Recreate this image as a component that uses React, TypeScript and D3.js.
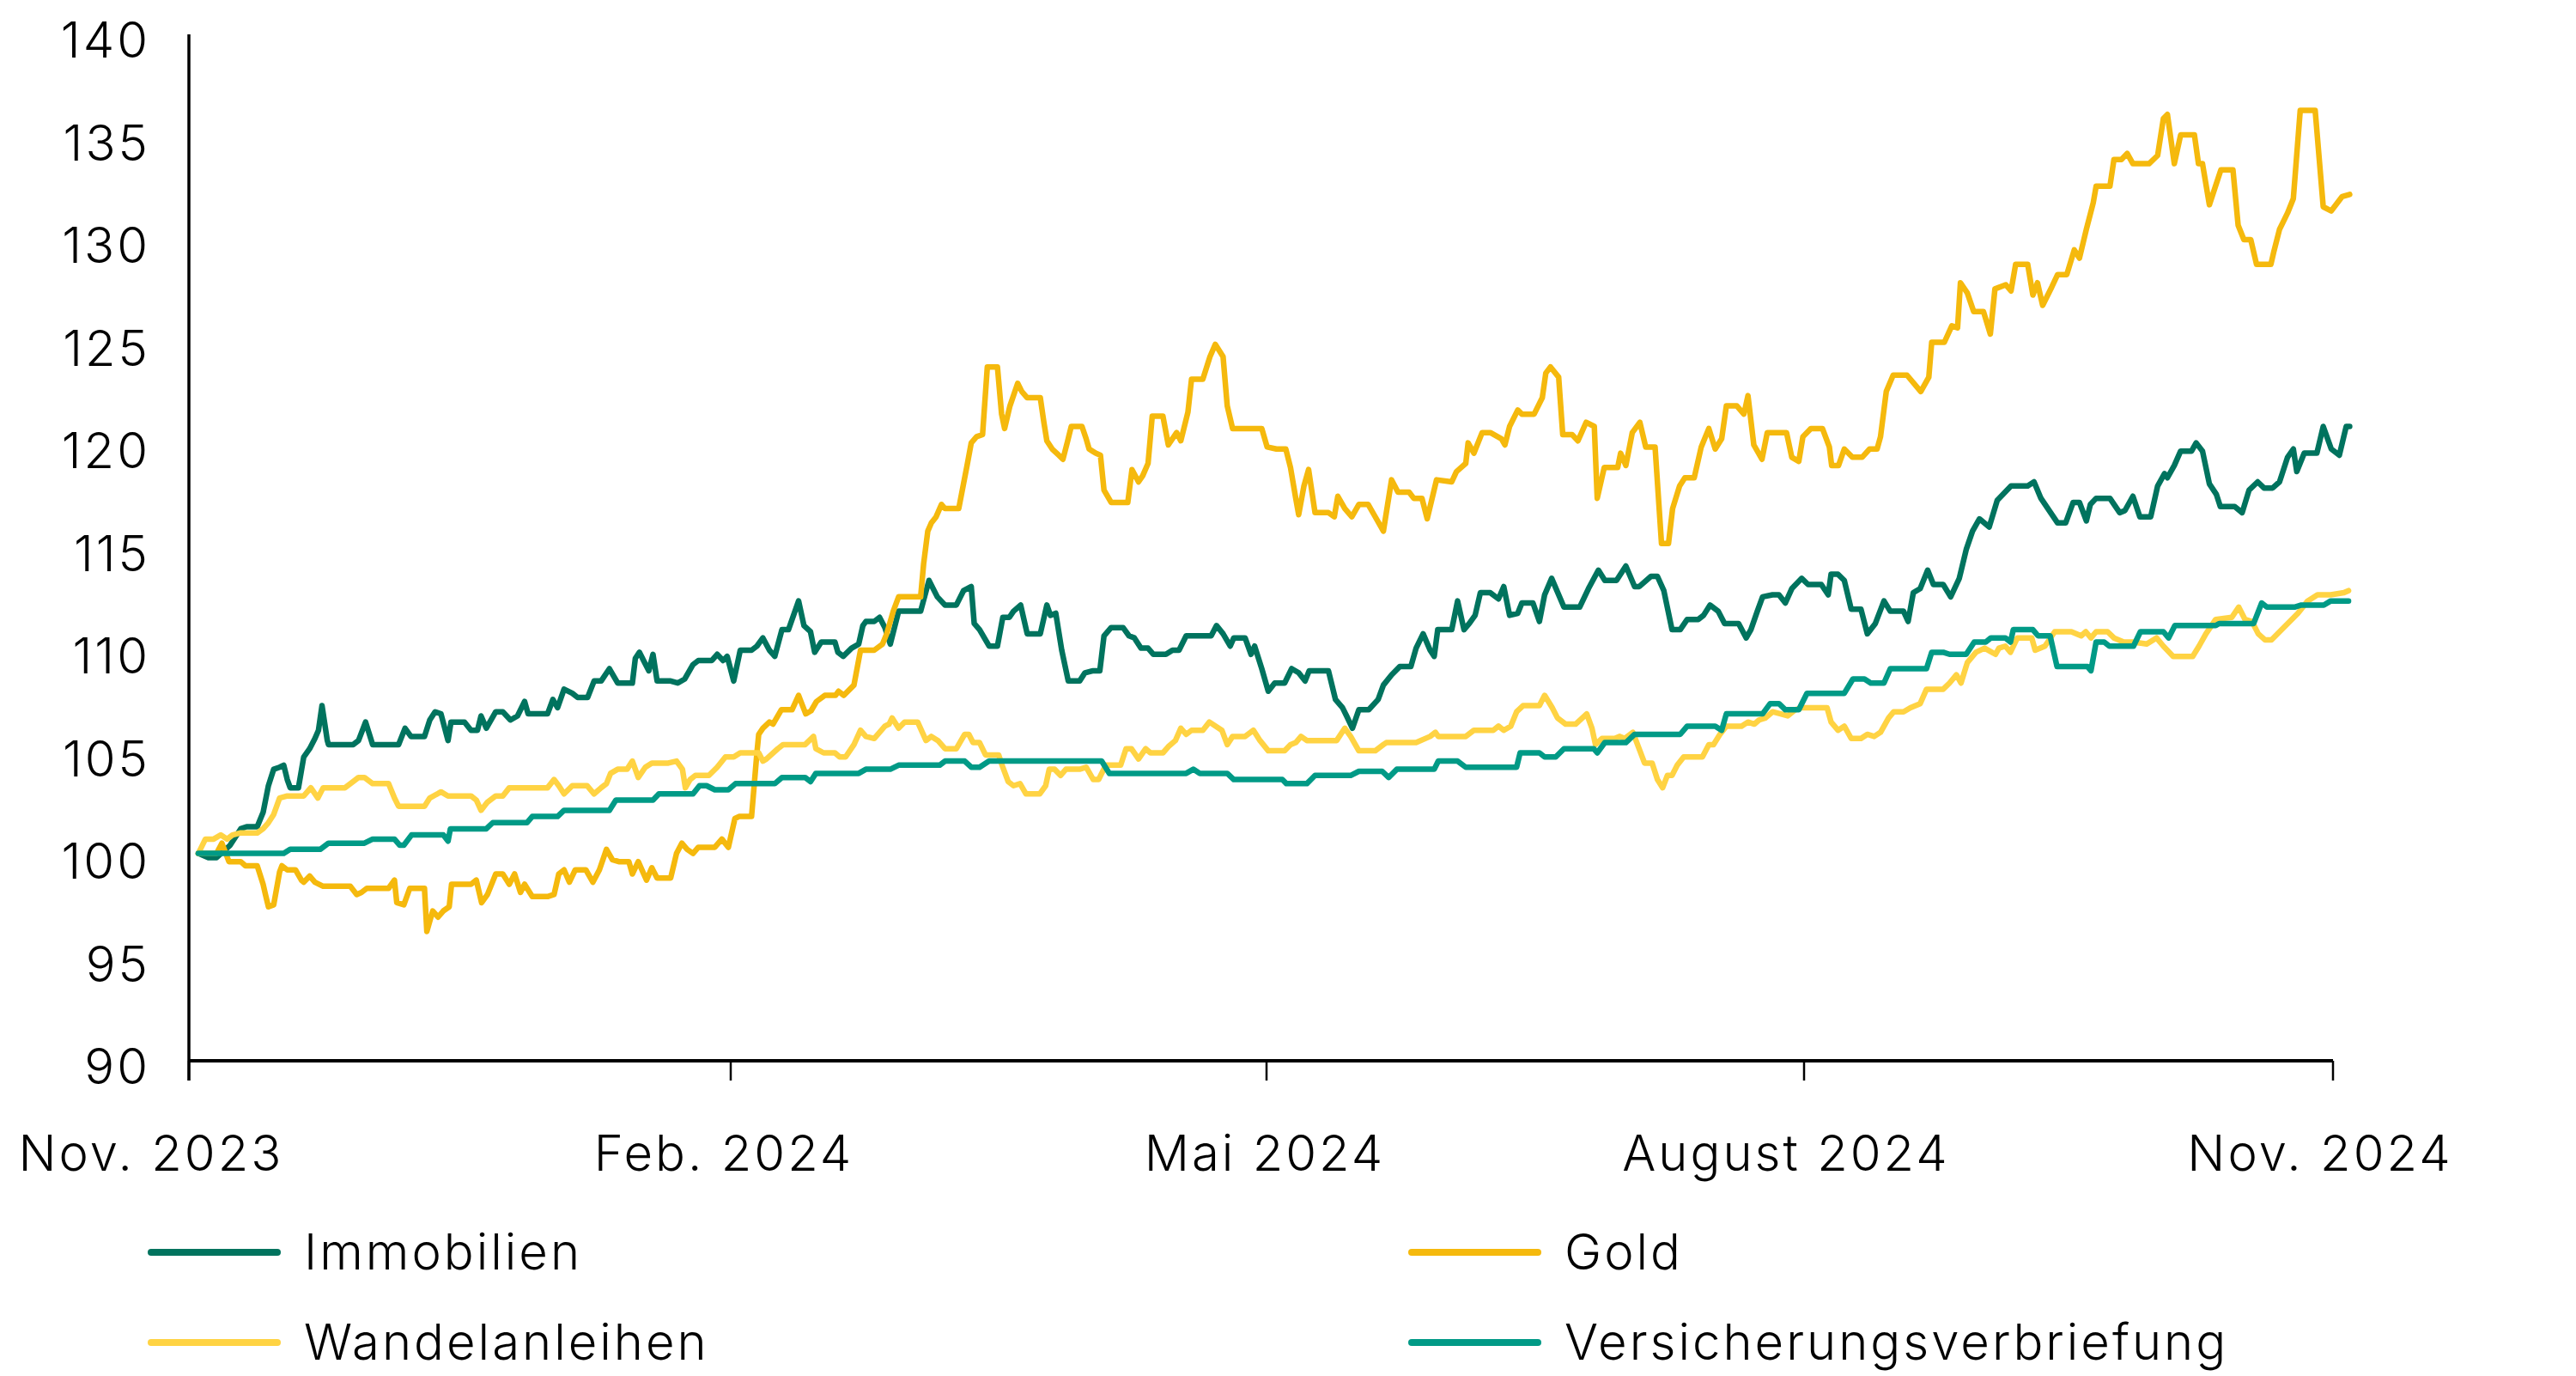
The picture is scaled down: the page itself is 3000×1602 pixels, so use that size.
import React from "react";
import * as d3 from "d3";

// ---------- data (x = days since 1 Nov 2023, y = index, start = 100) ----------
const START_UTC = Date.UTC(2023, 10, 1);

const xTickDates = ["2023-11-01", "2024-02-01", "2024-05-01", "2024-08-01", "2024-11-01"];
const xTickLabels = ["Nov. 2023", "Feb. 2024", "Mai 2024", "August 2024", "Nov. 2024"];
const yTicks = [90, 95, 100, 105, 110, 115, 120, 125, 130, 135, 140];

const seriesNames = ["Immobilien", "Gold", "Wandelanleihen", "Versicherungsverbriefung"];
const seriesColors = ["#00735E", "#F5B90D", "#FFD343", "#009A86"];

const immobilien: [number, number][] = [
  [1.6,100.1],[3.3,99.9],[4.7,99.9],[7.0,100.5],[8.8,101.3],[9.8,101.4],[11.6,101.4],[12.6,102.1],[13.5,103.4],[14.4,104.2],[15.4,104.3],[16.1,104.4],[16.7,103.7],[17.2,103.3],[18.6,103.3],[19.5,104.8],[20.5,105.2],[21.4,105.7],[22.0,106.1],[22.6,107.3],[23.5,105.6],[23.7,105.4],[27.9,105.4],[28.8,105.6],[30.0,106.5],[31.2,105.4],[35.6,105.4],[36.7,106.2],[37.7,105.8],[40.0,105.8],[40.9,106.6],[41.8,107.0],[42.8,106.9],[44.0,105.6],[44.5,106.5],[46.8,106.5],[47.9,106.1],[49.0,106.1],[49.6,106.8],[50.5,106.2],[52.1,107.0],[53.3,107.0],[54.6,106.6],[55.8,106.8],[57.0,107.5],[57.6,106.9],[60.9,106.9],[61.8,107.6],[62.6,107.2],[63.7,108.1],[65.1,107.9],[66.0,107.7],[67.7,107.7],[68.8,108.5],[70.0,108.5],[71.4,109.1],[72.8,108.4],[75.3,108.4],[75.8,109.6],[76.5,109.9],[77.2,109.5],[78.1,109.0],[78.8,109.8],[79.5,108.5],[81.8,108.5],[83.0,108.4],[84.2,108.6],[85.6,109.3],[86.5,109.5],[88.8,109.5],[89.7,109.8],[90.7,109.5],[91.4,109.7],[92.5,108.5],[93.6,110.0],[95.5,110.0],[96.4,110.2],[97.4,110.6],[98.5,110.0],[99.4,109.7],[100.6,111.0],[101.7,111.0],[103.4,112.4],[104.3,111.2],[105.4,110.9],[106.1,109.9],[107.2,110.4],[109.5,110.4],[110.0,109.9],[110.9,109.7],[112.3,110.1],[113.5,110.3],
  [114.2,111.2],[114.7,111.4],[116.1,111.4],[117.0,111.6],[117.9,111.1],[118.8,110.3],[120.2,111.9],[123.9,111.9],[125.3,113.4],[126.7,112.6],[128.0,112.2],[129.9,112.2],[131.1,112.9],[132.4,113.1],[132.9,111.3],[133.8,111.0],[135.4,110.2],[136.8,110.2],[137.7,111.6],[138.8,111.6],[139.5,111.9],[140.7,112.2],[141.8,110.8],[144.0,110.8],[145.1,112.2],[145.7,111.7],[146.6,111.8],[147.6,110.0],[148.7,108.5],[150.6,108.5],[151.5,108.9],[152.9,109.0],[154.0,109.0],[154.7,110.7],[155.9,111.1],[157.9,111.1],[158.9,110.7],[159.8,110.6],[160.9,110.1],[162.1,110.1],[163.0,109.8],[165.1,109.8],[166.2,110.0],[167.3,110.0],[168.5,110.7],[172.7,110.7],[173.6,111.2],[174.7,110.8],[175.9,110.2],[176.5,110.6],[178.4,110.6],[179.4,109.8],[180.0,110.2],[181.2,109.1],[182.3,108.0],[183.4,108.4],[185.1,108.4],[186.3,109.1],[187.5,108.9],[188.6,108.5],[189.3,109.0],[192.6,109.0],[193.8,107.6],[195.0,107.2],[195.7,106.8],[196.7,106.2],[197.8,107.1],[199.5,107.1],[201.1,107.6],[202.0,108.3],[203.4,108.8],[204.8,109.2],[206.7,109.2],[207.6,110.1],[208.8,110.8],[210.0,110.0],[210.7,109.7],[211.3,111.0],[213.7,111.0],[214.7,112.4],[215.8,111.0],[216.7,111.3],[217.7,111.7],[218.6,112.8],[220.3,112.8],[221.7,112.5],[222.6,113.1],[223.6,111.7],[225.0,111.8],[225.7,112.3],[227.6,112.3],[228.7,111.4],[229.6,112.7],[230.8,113.5],
  [232.9,112.1],[235.6,112.1],[237.1,113.0],[238.8,113.9],[239.9,113.4],[241.9,113.4],[243.5,114.1],[245.0,113.1],[245.8,113.1],[247.8,113.6],[248.9,113.6],[250.0,112.9],[251.4,111.0],[252.8,111.0],[254.0,111.5],[255.9,111.5],[256.8,111.7],[257.9,112.2],[259.3,111.9],[260.4,111.3],[262.8,111.3],[264.1,110.6],[264.9,111.0],[266.0,111.9],[266.9,112.6],[268.6,112.7],[269.7,112.7],[270.8,112.3],[271.9,113.0],[273.6,113.5],[274.7,113.2],[277.0,113.2],[278.2,112.7],[278.7,113.7],[279.9,113.7],[281.0,113.4],[282.2,112.0],[283.9,112.0],[285.0,110.8],[286.4,111.3],[287.9,112.4],[289.0,111.9],[291.3,111.9],[292.1,111.4],[293.0,112.8],[294.2,113.0],[295.5,113.9],[296.5,113.2],[298.2,113.2],[299.5,112.6],[301.0,113.5],[302.2,114.9],[303.3,115.8],[304.5,116.4],[306.2,116.0],
  [307.6,117.3],[310.0,118.0],[312.9,118.0],[314.0,118.2],[315.2,117.4],[318.1,116.2],[319.5,116.2],[320.8,117.2],[321.9,117.2],[323.1,116.3],[323.8,117.1],[324.8,117.4],[327.2,117.4],[328.9,116.7],[329.8,116.8],[331.2,117.5],[332.4,116.5],[334.3,116.5],[335.5,118.0],[336.7,118.6],[337.2,118.4],[338.4,119.0],[339.5,119.7],[341.4,119.7],[342.2,120.1],[343.3,119.7],[344.5,118.1],[345.7,117.6],[346.4,117.0],[348.9,117.0],[350.2,116.7],[351.4,117.8],[352.9,118.2],[354.0,117.9],[355.5,117.9],[356.7,118.2],[358.1,119.4],[359.1,119.8],[359.7,118.7],[361.0,119.6],[363.2,119.6],[364.3,120.9],[365.7,119.8],[367.1,119.5],[368.3,120.9],[368.9,120.9],
];

const gold: [number, number][] = [
  [1.6,100.1],[4.7,100.1],[5.6,100.6],[6.8,99.7],[8.8,99.7],[9.6,99.5],[11.6,99.5],[12.6,98.6],[13.0,98.1],[13.5,97.5],[14.4,97.6],[15.4,99.2],[15.8,99.5],[16.7,99.3],[18.1,99.3],[19.1,98.8],[19.5,98.7],[20.5,99.0],[21.4,98.7],[22.8,98.5],[27.4,98.5],[28.5,98.1],[29.3,98.2],[30.2,98.4],[33.9,98.4],[34.9,98.8],[35.3,97.7],[36.5,97.6],[37.5,98.4],[40.0,98.4],[40.4,96.3],[41.4,97.3],[42.3,97.0],[43.2,97.3],[44.2,97.5],[44.6,98.6],[47.9,98.6],[48.8,98.8],[49.7,97.7],[50.7,98.1],[52.1,99.1],[53.3,99.1],[54.4,98.6],[55.3,99.1],[56.3,98.2],[57.0,98.6],[58.3,98.0],[60.9,98.0],[62.0,98.1],[62.8,99.1],[63.7,99.3],[64.6,98.7],[65.6,99.3],[67.4,99.3],[68.6,98.7],[69.7,99.3],[70.9,100.3],[71.9,99.8],[73.0,99.7],[74.7,99.7],[75.3,99.1],[76.3,99.7],[77.7,98.8],[78.6,99.4],[79.5,98.9],[81.8,98.9],[82.8,100.1],[83.7,100.6],[84.6,100.3],[85.6,100.1],[86.5,100.4],[89.3,100.4],[90.5,100.8],[91.6,100.4],[92.7,101.8],[93.4,101.9],[95.5,101.9],[96.4,105.0],[96.7,105.9],[97.4,106.2],[98.5,106.5],
  [99.1,106.4],[100.5,107.1],[102.3,107.1],[103.4,107.8],[104.6,106.9],[105.5,107.05],[106.4,107.5],[107.8,107.8],[109.6,107.8],[110.1,108.0],[111.0,107.8],[112.7,108.3],[113.8,110.0],[116.1,110.0],[117.5,110.3],[118.2,110.8],[119.3,111.9],[120.2,112.6],[123.9,112.6],
  [124.4,114.2],[125.1,115.8],[125.7,116.2],[126.5,116.5],[127.4,117.1],[128.0,116.9],[130.3,116.9],[131.1,118.1],[131.7,119.0],[132.4,120.1],[133.3,120.4],[134.3,120.5],[135.1,123.8],[136.8,123.8],[137.5,121.5],[138.0,120.8],[138.9,121.9],[140.2,123.0],[140.9,122.6],[141.8,122.3],[144.0,122.3],[144.6,121.1],[145.1,120.2],[146.0,119.8],[147.1,119.5],[147.8,119.3],[148.6,120.2],[149.2,120.9],[151.0,120.9],[151.7,120.3],[152.2,119.8],[153.3,119.6],[154.1,119.5],[154.7,117.8],[155.9,117.2],[158.7,117.2],[159.4,118.8],[160.5,118.2],[161.2,118.5],[162.1,119.1],[162.8,121.4],[164.6,121.4],[165.5,120.0],[166.9,120.6],[167.6,120.2],[168.8,121.6],[169.4,123.2],[171.3,123.2],[172.5,124.3],[173.4,124.9],[174.7,124.3],[175.4,121.9],[176.3,120.8],[181.2,120.8],[182.1,119.9],[183.7,119.8],[185.3,119.8],[186.1,118.9],[187.0,117.4],[187.5,116.6],[188.4,118.0],[189.2,118.8],[190.3,116.7],[192.6,116.7],[193.6,116.5],[194.2,117.5],[195.4,116.9],[196.6,116.5],[197.8,117.1],[199.4,117.1],[200.4,116.6],[201.4,116.1],[202.0,115.8],[203.4,118.3],[204.5,117.7],[206.4,117.7],[207.2,117.4],[208.6,117.4],[209.5,116.4],[211.1,118.3],[213.7,118.2],[214.5,118.7],[216.1,119.1],[216.5,120.1],[217.5,119.6],[218.9,120.6],[220.3,120.6],[222.2,120.3],[222.8,120.0],[223.6,120.9],[225.0,121.7],[225.7,121.5],[227.8,121.5],[229.2,122.3],[229.8,123.5],[230.6,123.8],[232.0,123.3],[232.7,120.5],[234.3,120.5],[235.3,120.2],[236.7,121.1],[238.1,120.9],[238.6,117.4],[239.8,118.9],[242.1,118.9],[242.6,119.6],[243.5,119.0],
  [244.6,120.6],[245.9,121.1],[246.9,119.9],[248.5,119.9],[249.6,115.2],[250.8,115.2],[251.5,116.9],[252.7,118.0],[253.6,118.4],[255.2,118.4],[256.4,119.9],[257.7,120.8],[258.8,119.8],[259.9,120.3],[260.7,121.9],[262.5,121.9],[263.7,121.5],[264.4,122.4],[265.4,120.0],[266.8,119.3],[267.7,120.6],[271.0,120.6],[271.9,119.4],[273.1,119.2],[273.8,120.4],[275.2,120.8],[277.2,120.8],[278.4,119.9],[278.8,119.0],[280.0,119.0],[281.0,119.8],[282.4,119.4],[284.1,119.4],[285.4,119.8],[286.7,119.8],[287.3,120.4],[288.3,122.6],[289.5,123.4],[291.9,123.4],[294.3,122.6],[295.7,123.3],[296.2,125.0],[298.4,125.0],[299.7,125.8],[300.7,125.7],[301.2,127.9],[302.4,127.4],[303.5,126.5],[305.2,126.5],[306.4,125.4],[307.2,127.6],[309.1,127.8],[310.0,127.5],[310.8,128.8],[312.9,128.8],[313.8,127.3],[314.6,127.9],[315.5,126.8],[317.1,127.7],[318.1,128.3],[319.7,128.3],[321.0,129.5],[321.9,129.1],[323.1,130.5],[324.3,131.8],[324.8,132.6],[327.2,132.6],[327.9,133.9],[329.2,133.9],[330.2,134.2],[331.2,133.7],[334.0,133.7],[335.5,134.1],[336.5,135.9],[337.2,136.1],[338.4,133.7],[339.5,135.1],[341.9,135.1],[342.6,133.7],[343.3,133.7],[344.5,131.7],[346.5,133.4],[348.6,133.4],[349.5,130.7],[350.5,130.0],[351.7,130.0],[352.7,128.8],[355.2,128.8],[355.7,129.4],[356.7,130.5],[358.1,131.3],[359.1,132.0],[360.3,136.3],[362.9,136.3],[364.3,131.6],[365.7,131.4],[367.6,132.1],[368.9,132.2],
];

const wandelanleihen: [number, number][] = [
  [1.6,100.1],[2.8,100.8],[4.2,100.8],[5.4,101.0],[6.5,100.8],[7.4,101.0],[8.8,101.1],[11.6,101.1],[12.6,101.3],[13.5,101.6],[14.4,102.0],[15.4,102.8],[16.7,102.9],[19.5,102.9],[20.7,103.3],[21.9,102.8],[22.8,103.3],[26.5,103.3],[27.9,103.6],[28.8,103.8],[29.8,103.8],[31.2,103.5],[33.9,103.5],[34.9,102.8],[35.6,102.4],[40.0,102.4],[40.9,102.8],[42.8,103.1],[44.0,102.9],[47.9,102.9],[48.8,102.7],[49.6,102.2],[50.7,102.6],[52.1,102.9],[53.3,102.9],[54.4,103.3],[60.9,103.3],[62.0,103.7],[62.8,103.4],[63.7,103.0],[65.1,103.4],[67.6,103.4],[68.8,103.0],[70.0,103.3],[70.9,103.5],[71.6,104.0],[72.8,104.2],[74.4,104.2],[75.3,104.6],[76.3,103.8],[77.5,104.3],[78.6,104.5],[81.4,104.5],[82.8,104.6],[83.8,104.2],[84.3,103.3],[85.1,103.7],[86.0,103.9],[88.3,103.9],[89.7,104.3],[91.1,104.8],[92.5,104.8],[93.6,105.0],[96.7,105.0],[97.4,104.6],[98.0,104.7],[99.9,105.2],[100.8,105.4],[104.5,105.4],[105.9,105.8],[106.3,105.2],[107.6,105.0],[109.5,105.0],[110.3,104.8],[111.3,104.8],[112.7,105.4],
  [113.8,106.1],[114.7,105.8],[116.1,105.7],[117.0,106.0],[117.9,106.3],[118.6,106.4],[119.1,106.7],[120.2,106.2],[121.2,106.5],[123.4,106.5],[124.8,105.6],[125.7,105.8],[126.8,105.6],[128.0,105.2],[129.9,105.2],[131.3,105.9],[132.0,105.9],[132.7,105.5],[133.8,105.5],[134.8,104.9],[137.0,104.9],[137.7,104.3],[138.6,103.6],[139.5,103.4],[140.6,103.5],[141.6,103.0],[143.9,103.0],[144.9,103.4],[145.5,104.2],[146.4,104.2],[147.4,103.9],[148.3,104.2],[150.6,104.2],[151.7,104.3],[152.9,103.7],[153.8,103.7],[155.0,104.4],[157.5,104.4],[158.4,105.2],[159.3,105.2],[160.5,104.7],[161.7,105.2],[162.5,105.0],[164.6,105.0],[165.5,105.3],[166.7,105.6],[167.6,106.2],[168.5,105.9],[169.4,106.1],[171.3,106.1],[172.4,106.5],[174.5,106.1],[175.4,105.4],[176.3,105.8],[178.4,105.8],[179.8,106.1],[180.9,105.6],[182.3,105.1],[185.1,105.1],[186.1,105.4],[187.0,105.5],[187.9,105.8],[188.9,105.6],[194.0,105.6],[195.4,106.2],[196.4,105.8],[197.8,105.1],[200.6,105.1],[202.0,105.4],[202.5,105.5],[207.6,105.5],[210.0,105.8],[210.9,106.0],[211.4,105.8],[216.1,105.8],[217.5,106.1],[220.8,106.1],[221.7,106.3],[222.6,106.1],[223.8,106.3],[224.8,107.0],[225.9,107.3],[228.7,107.3],[229.6,107.8],
  [230.9,107.2],[231.8,106.7],[233.2,106.4],[234.9,106.4],[236.8,106.9],[237.7,106.2],[238.3,105.4],[239.4,105.7],[241.6,105.7],[242.4,105.8],[243.3,105.7],[244.7,106.0],[245.5,105.4],[246.7,104.5],[248.0,104.5],[248.9,103.7],[249.8,103.3],[250.6,103.9],[251.4,103.9],[252.3,104.4],[253.4,104.8],[256.6,104.8],[257.7,105.4],[258.5,105.4],[259.6,105.9],[260.7,106.3],[263.3,106.3],[264.4,106.5],[265.5,106.4],[266.3,106.6],[267.4,106.7],[268.6,107.0],[270.0,106.9],[271.2,106.8],[272.5,107.1],[273.6,107.2],[278.0,107.2],[278.7,106.5],[279.9,106.1],[281.0,106.3],[282.2,105.7],[283.9,105.7],[285.0,105.9],[286.2,105.8],[287.3,106.0],[288.7,106.7],[289.6,107.0],[291.3,107.0],[292.5,107.2],[294.2,107.4],[295.3,108.1],[298.2,108.1],[299.3,108.4],[300.5,108.8],[301.3,108.4],[302.4,109.4],[303.9,109.9],[305.4,110.1],[307.3,109.8],[307.9,110.1],[309.0,110.2],[309.9,109.9],[311.1,110.6],[313.6,110.6],[314.2,110.0],[315.9,110.2],[317.6,110.9],[320.5,110.9],[322.2,110.7],[323.0,110.9],[323.9,110.6],[324.8,110.9],[326.8,110.9],[327.9,110.6],[329.6,110.4],[331.3,110.4],[333.6,110.3],[335.3,110.6],[336.5,110.2],[338.2,109.7],[341.6,109.7],[342.7,110.2],[343.9,110.8],[345.6,111.5],[348.4,111.6],[349.6,112.1],[350.7,111.5],[351.9,111.4],[353.0,110.8],[354.2,110.5],[355.3,110.5],[359.9,111.8],[361.6,112.4],[363.3,112.7],[365.6,112.7],[367.9,112.8],[368.7,112.9],
];

const versicherung: [number, number][] = [
  [1.6,100.1],[16.1,100.1],[17.2,100.3],[22.3,100.3],[23.7,100.6],[29.8,100.6],[31.2,100.8],[34.9,100.8],[35.8,100.5],[36.5,100.5],[37.8,101.0],[43.2,101.0],[44.0,100.7],[44.4,101.3],[50.5,101.3],[51.6,101.6],[57.4,101.6],[58.3,101.9],[62.6,101.9],[63.7,102.2],[71.4,102.2],[72.5,102.7],[78.8,102.7],[79.8,103.0],[85.6,103.0],[86.7,103.4],[87.9,103.4],[89.3,103.2],[91.6,103.2],[92.8,103.5],[99.4,103.5],[100.6,103.8],[104.5,103.8],[105.4,103.6],[106.3,104.0],[113.5,104.0],
  [114.7,104.2],[118.8,104.2],[120.2,104.4],[127.1,104.4],[128.0,104.6],[131.3,104.6],[132.4,104.3],[133.8,104.3],[135.4,104.6],[154.3,104.6],[155.6,104.0],[168.5,104.0],[169.7,104.2],[170.8,104.0],[175.4,104.0],[176.5,103.7],[184.7,103.7],[185.4,103.5],[188.9,103.5],[190.3,103.9],[196.4,103.9],[197.8,104.1],[201.8,104.1],[202.9,103.8],[204.3,104.2],[210.7,104.2],[211.4,104.6],[214.7,104.6],[216.1,104.3],[224.8,104.3],[225.4,105.0],[228.7,105.0],[229.6,104.8],[231.5,104.8],
  [232.9,105.2],[238.0,105.2],[238.6,105.0],[239.9,105.5],[243.5,105.5],[245.0,105.9],[252.8,105.9],[254.0,106.3],[258.8,106.3],[259.9,106.1],[260.7,106.9],[266.9,106.9],[268.2,107.4],[269.7,107.4],[270.8,107.1],[273.1,107.1],[274.5,107.9],[281.0,107.9],[282.5,108.6],[284.5,108.6],[285.6,108.4],[287.9,108.4],[289.0,109.1],[295.3,109.1],[296.2,109.9],[298.2,109.9],[299.3,109.8],[302.2,109.8],[303.6,110.4],[305.6,110.4],[306.5,110.6],[309.0,110.6],[309.9,110.4],[310.4,111.0],[313.8,111.0],[314.7,110.7],[316.8,110.7],[318.0,109.2],[323.3,109.2],[323.9,109.0],[324.8,110.4],[326.2,110.4],[327.1,110.2],[331.3,110.2],[332.5,110.9],[336.5,110.9],[337.4,110.6],[338.5,111.2],[345.6,111.2],[346.2,111.3],[352.2,111.3],[353.6,112.3],[354.5,112.1],[359.3,112.1],[360.5,112.2],[364.4,112.2],[365.6,112.4],[368.7,112.4],
];

const seriesData = [immobilien, gold, wandelanleihen, versicherung];

// ---------- layout ----------
const W = 3000;
const H = 1602;
const FONT = "Inter, 'Open Sans', Lato, sans-serif";
const FONT_WEIGHT = 300;
const LETTER_SPACING = 3;
const tickLabelShift = [-44, -8, -2, -21, -15];

export default function App() {
  const x = d3
    .scaleUtc()
    .domain(xTickDates.map((d) => new Date(d + "T00:00:00Z")))
    .range([220, 851, 1475, 2101, 2717]);
  const y = d3.scaleLinear().domain([90, 140]).range([1235, 40]);

  const line = d3
    .line<[number, number]>()
    .x((p) => x(new Date(START_UTC + p[0] * 86400000)))
    .y((p) => y(p[1]));

  const xAxisY = y(90);
  const tickLen = 23;

  const legendCols = [172, 1640];
  const legendRows = [1458, 1563];

  return (
    <svg
      width={W}
      height={H}
      viewBox={`0 0 ${W} ${H}`}
      style={{ position: "absolute", left: 0, top: 0, background: "#fff" }}
      fontFamily={FONT}
      fontWeight={FONT_WEIGHT}
      letterSpacing={LETTER_SPACING}
    >
      <rect x={0} y={0} width={W} height={H} fill="#fff" />

      {/* series */}
      {seriesData.map((s, i) => (
        <path
          key={seriesNames[i]}
          d={line(s) ?? ""}
          fill="none"
          stroke={seriesColors[i]}
          strokeWidth={6.5}
          strokeLinejoin="round"
          strokeLinecap="round"
        />
      ))}

      {/* y axis */}
      <line x1={x.range()[0]} x2={x.range()[0]} y1={y(140)} y2={xAxisY + tickLen} stroke="#000" strokeWidth={3.5} />
      {yTicks.map((t) => (
        <text key={t} x={175} y={y(t) + 27} textAnchor="end" fontSize={58} fill="#000">
          {t}
        </text>
      ))}

      {/* x axis */}
      <line x1={x.range()[0]} x2={x.range()[x.range().length - 1]} y1={xAxisY} y2={xAxisY} stroke="#000" strokeWidth={4} />
      {xTickDates.map((d, i) => {
        const xp = x(new Date(d + "T00:00:00Z"));
        return (
          <g key={d}>
            <line x1={xp} x2={xp} y1={xAxisY} y2={xAxisY + tickLen} stroke="#000" strokeWidth={2.5} />
            <text x={xp + tickLabelShift[i]} y={1363} textAnchor="middle" fontSize={58} fill="#000">
              {xTickLabels[i]}
            </text>
          </g>
        );
      })}

      {/* legend: row-major, 2 columns */}
      {seriesNames.map((name, i) => {
        const col = i % 2;
        const row = Math.floor(i / 2);
        const lx = legendCols[col];
        const ly = legendRows[row];
        return (
          <g key={name}>
            <line x1={lx + 4} x2={lx + 151} y1={ly} y2={ly} stroke={seriesColors[i]} strokeWidth={8} strokeLinecap="round" />
            <text x={lx + 182} y={ly + 20} fontSize={58} fill="#000">
              {name}
            </text>
          </g>
        );
      })}
    </svg>
  );
}
